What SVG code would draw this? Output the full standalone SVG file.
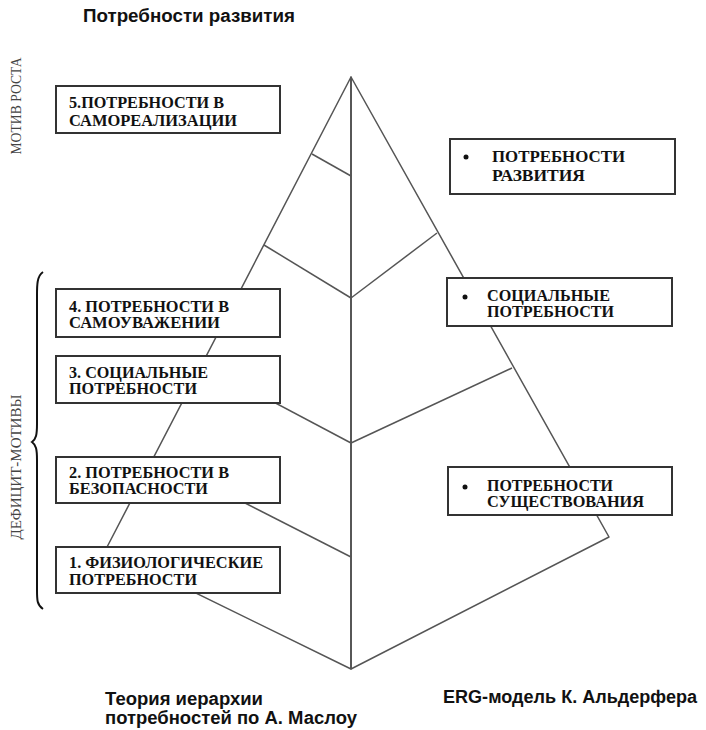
<svg xmlns="http://www.w3.org/2000/svg" width="706" height="730" viewBox="0 0 706 730">
  <style>
    .edge { fill: none; stroke: #555; stroke-width: 1.5; stroke-linejoin: round; }
    .box { fill: #fff; stroke: #333; stroke-width: 2; }
    .lbl { font-family: "Liberation Serif", "Times New Roman", serif; font-weight: bold; font-size: 16px; fill: #111; }
    .side { font-family: "Liberation Serif", "Times New Roman", serif; font-size: 14px; fill: #444; }
    .cap { font-family: "Liberation Sans", Arial, sans-serif; font-weight: bold; font-size: 18px; fill: #111; }
    .dot { fill: #111; }
  </style>

  <!-- heading -->
  <text class="cap" x="83" y="22" textLength="212" lengthAdjust="spacingAndGlyphs">Потребности развития</text>

  <!-- side captions -->
  <text class="side" transform="translate(21,106) rotate(-90)" text-anchor="middle" textLength="97" lengthAdjust="spacingAndGlyphs">МОТИВ РОСТА</text>
  <text class="side" transform="translate(21,467) rotate(-90)" text-anchor="middle" textLength="145" lengthAdjust="spacingAndGlyphs">ДЕФИЦИТ-МОТИВЫ</text>
  <path d="M43,272 C37,276 37,285 37,295 L37,424 C37,435 36,439 32,442 C36,445 37,449 37,460 L37,590 C37,600 37,605 43,609" fill="none" stroke="#111" stroke-width="2"/>

  <!-- pyramid outline and division lines -->
  <g id="connectors">
    <polygon class="edge" points="351,77 106,549 351,669"/>
    <polygon class="edge" points="351,77 609,537 351,669"/>
    <line class="edge" x1="351" y1="77" x2="351" y2="669"/>
    <line class="edge" x1="312" y1="154" x2="351" y2="176"/>
    <line class="edge" x1="264" y1="245" x2="351" y2="298"/>
    <line class="edge" x1="351" y1="298" x2="437" y2="233"/>
    <line class="edge" x1="202" y1="364" x2="351" y2="443"/>
    <line class="edge" x1="351" y1="443" x2="512" y2="368"/>
    <line class="edge" x1="200" y1="480" x2="351" y2="557"/>
  </g>

  <!-- Maslow levels -->
  <g id="level5">
    <rect class="box" x="56" y="86" width="224" height="47"/>
    <text class="lbl" x="69" y="108" textLength="155" lengthAdjust="spacingAndGlyphs">5.ПОТРЕБНОСТИ В</text>
    <text class="lbl" x="69" y="126" textLength="168" lengthAdjust="spacingAndGlyphs">САМОРЕАЛИЗАЦИИ</text>
  </g>
  <g id="level4">
    <rect class="box" x="56" y="289" width="224" height="48"/>
    <text class="lbl" x="69" y="312" textLength="160" lengthAdjust="spacingAndGlyphs">4. ПОТРЕБНОСТИ В</text>
    <text class="lbl" x="69" y="328" textLength="151" lengthAdjust="spacingAndGlyphs">САМОУВАЖЕНИИ</text>
  </g>
  <g id="level3">
    <rect class="box" x="56" y="356" width="224" height="47"/>
    <text class="lbl" x="69" y="378" textLength="139" lengthAdjust="spacingAndGlyphs">3. СОЦИАЛЬНЫЕ</text>
    <text class="lbl" x="69" y="394" textLength="128" lengthAdjust="spacingAndGlyphs">ПОТРЕБНОСТИ</text>
  </g>
  <g id="level2">
    <rect class="box" x="56" y="457" width="224" height="46"/>
    <text class="lbl" x="69" y="478" textLength="160" lengthAdjust="spacingAndGlyphs">2. ПОТРЕБНОСТИ В</text>
    <text class="lbl" x="69" y="494" textLength="139" lengthAdjust="spacingAndGlyphs">БЕЗОПАСНОСТИ</text>
  </g>
  <g id="level1">
    <rect class="box" x="56" y="547" width="224" height="46"/>
    <text class="lbl" x="69" y="568" textLength="194" lengthAdjust="spacingAndGlyphs">1. ФИЗИОЛОГИЧЕСКИЕ</text>
    <text class="lbl" x="69" y="585" textLength="128" lengthAdjust="spacingAndGlyphs">ПОТРЕБНОСТИ</text>
  </g>

  <!-- ERG levels -->
  <g id="growth">
    <rect class="box" x="450" y="139" width="225" height="55"/>
    <circle class="dot" cx="466" cy="157" r="2.5"/>
    <text class="lbl" x="492" y="162" textLength="133" lengthAdjust="spacingAndGlyphs">ПОТРЕБНОСТИ</text>
    <text class="lbl" x="492" y="181" textLength="93" lengthAdjust="spacingAndGlyphs">РАЗВИТИЯ</text>
  </g>
  <g id="relatedness">
    <rect class="box" x="447" y="278" width="225" height="48"/>
    <circle class="dot" cx="465" cy="297" r="2.5"/>
    <text class="lbl" x="487" y="301" textLength="123" lengthAdjust="spacingAndGlyphs">СОЦИАЛЬНЫЕ</text>
    <text class="lbl" x="487" y="317" textLength="127" lengthAdjust="spacingAndGlyphs">ПОТРЕБНОСТИ</text>
  </g>
  <g id="existence">
    <rect class="box" x="448" y="467" width="224" height="48"/>
    <circle class="dot" cx="465" cy="487" r="2.5"/>
    <text class="lbl" x="487" y="491" textLength="126" lengthAdjust="spacingAndGlyphs">ПОТРЕБНОСТИ</text>
    <text class="lbl" x="487" y="507" textLength="157" lengthAdjust="spacingAndGlyphs">СУЩЕСТВОВАНИЯ</text>
  </g>

  <!-- captions under the pyramids -->
  <text class="cap" x="105" y="705" textLength="158" lengthAdjust="spacingAndGlyphs">Теория иерархии</text>
  <text class="cap" x="105" y="724" textLength="252" lengthAdjust="spacingAndGlyphs">потребностей по А. Маслоу</text>
  <text class="cap" x="443" y="703" textLength="254" lengthAdjust="spacingAndGlyphs">ERG-модель К. Альдерфера</text>
</svg>
